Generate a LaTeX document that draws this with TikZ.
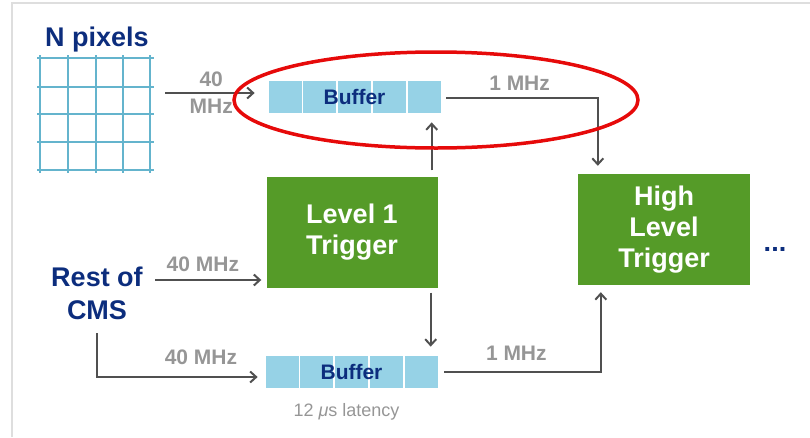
\documentclass[tikz,border=0pt]{standalone}
\usepackage{fontspec}
\setmainfont{Liberation Sans}
\usetikzlibrary{arrows.meta,positioning,calc}
\definecolor{NavyText}{RGB}{12,45,125}
\definecolor{GridBlue}{RGB}{100,180,205}
\definecolor{CellBlue}{RGB}{150,210,230}
\definecolor{TrigGreen}{RGB}{85,155,40}
\definecolor{RateGray}{RGB}{150,150,150}
\definecolor{ArrowGray}{RGB}{80,80,80}
\definecolor{FrameGray}{RGB}{222,222,222}
\definecolor{MarkRed}{RGB}{230,10,10}
\tikzset{
  cell/.style={draw=white,line width=0.75pt,fill=CellBlue,minimum width=34pt,
    minimum height=33pt,inner sep=0pt},
  trigger/.style={fill=TrigGreen,text=white,inner sep=0pt,align=center,
    font=\fontsize{27}{31}\selectfont\bfseries},
  title/.style={text=NavyText,align=center,font=\fontsize{27}{33}\selectfont\bfseries},
  buflabel/.style={text=NavyText,font=\fontsize{21}{24}\selectfont\bfseries},
  rate/.style={text=RateGray,align=center,inner sep=2pt,
    font=\fontsize{21}{27}\selectfont\bfseries},
  latency/.style={text=RateGray,font=\fontsize{18}{20}\selectfont},
  arrow/.style={-{Straight Barb[length=6pt,width=11pt]},line width=2pt,ArrowGray},
  gridline/.style={GridBlue,line width=1.4pt}
}

\begin{document}
\begin{tikzpicture}[x=1pt,y=-1pt,node distance=0pt]
  \useasboundingbox (0,0) rectangle (810,437);
  \draw[FrameGray,line width=1.2pt] (12,437) -- (12,3) -- (810,3);

  % pixel grid
  \foreach \x in {40,68,96,123,150}
    \draw[gridline] (\x,55) -- (\x,173);
  \foreach \y in {58,87,114,142,170}
    \draw[gridline] (37,\y) -- (154,\y);
  \node[title] (npix) at (97,40) {N pixels};
  \coordinate (gridout) at (165,93);

  % buffer fed by the pixels
  \node[cell] (tb0) at (285,96.5) {};
  \node[cell,right=of tb0] (tb1) {};
  \node[cell,right=of tb1] (tb2) {};
  \node[cell,right=of tb2] (tb3) {};
  \node[cell,right=of tb3] (tb4) {};
  \node[buflabel] at (tb2) {Buffer};

  % buffer fed by the rest of the detector
  \node[cell] (bb0) at (282,371.5) {};
  \node[cell,right=of bb0] (bb1) {};
  \node[cell,right=of bb1] (bb2) {};
  \node[cell,right=of bb2] (bb3) {};
  \node[cell,right=of bb3] (bb4) {};
  \node[buflabel] at (bb2) {Buffer};
  \node[latency,below=12pt of bb2,xshift=-5pt] (lat) {12 {\itshape μ}s latency};

  % trigger stages
  \node[trigger,minimum width=171pt,minimum height=111pt] (lone) at (352,232)
    {Level 1\\Trigger};
  \node[trigger,minimum width=172pt,minimum height=111pt] (hlt) at (664,229.5)
    {High\\Level\\Trigger};
  \node[title,right=10pt of hlt,yshift=-20pt] (dots) {...};

  \node[title] (rest) at (97,293) {Rest of\\CMS};
  \coordinate (restout) at (155,280);
  \coordinate (restdown) at (97,333);

  % data flow
  \draw[arrow,shorten >=13pt] (gridout) -- ([yshift=3.5pt]tb0.west)
    node[rate,pos=0.45] {40\\MHz};
  \draw[arrow,shorten >=5pt] (restout) -- (restout -| lone.west)
    node[rate,pos=0.43,above=5pt] {40 MHz};
  \draw[arrow,shorten >=7pt] (restdown) |- ([yshift=-5.5pt]bb0.west)
    node[rate,pos=0.81,above=9pt] {40 MHz};
  \draw[arrow,shorten <=6pt,shorten >=9pt] ([xshift=-6pt]lone.north east)
    -- ([xshift=-6pt]lone.north east |- tb4.south);
  \draw[arrow,shorten <=5pt,shorten >=8pt] ([xshift=-7pt]lone.south east)
    -- ([xshift=-7pt]lone.south east |- bb4.north);
  \draw[arrow,shorten <=5pt,shorten >=8pt] ([yshift=-1.5pt]tb4.east)
    -| ([xshift=20pt]hlt.north west) node[rate,pos=0.25,above=5pt] {1 MHz};
  \draw[arrow,shorten <=6pt,shorten >=7pt] (bb4.east)
    -| ([xshift=23pt]hlt.south west) node[rate,pos=0.24,above=8pt] {1 MHz};

  % highlight around the pixel buffer
  \draw[MarkRed,line width=3.5pt] (436,100) ellipse [x radius=202,y radius=48];
\end{tikzpicture}
\end{document}
